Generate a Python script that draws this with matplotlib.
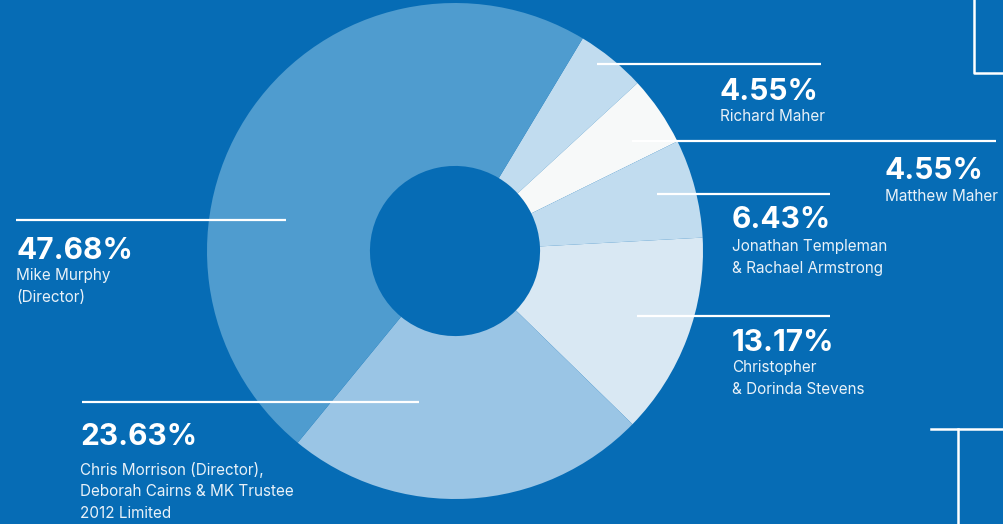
import matplotlib.pyplot as plt

# Shareholders, clockwise from the top
names = ['Richard Maher', 'Matthew Maher',
         'Jonathan Templeman\n& Rachael Armstrong',
         'Christopher\n& Dorinda Stevens',
         'Chris Morrison (Director),\nDeborah Cairns & MK Trustee\n2012 Limited',
         'Mike Murphy\n(Director)']
shares = [4.55, 4.55, 6.43, 13.17, 23.63, 47.68]
colors = ['#c1dcef', '#f7f9f9', '#c1dcef', '#d9e8f3', '#9ac5e5', '#4f9ccf']

BG = '#066cb5'
W, H = 1004, 524

fig = plt.figure(figsize=(W / 100, H / 100), dpi=100, facecolor=BG)
ax = fig.add_axes([0, 0, 1, 1])
ax.set_facecolor(BG)


def py(y):
    # pixel row (from top) -> data y
    return H - y


ax.pie(shares, colors=colors, startangle=59, counterclock=False,
       center=(455, py(251)), radius=248,
       wedgeprops=dict(width=248 * 0.657, linewidth=0))

# pie() sets its own limits, so fix them afterwards
ax.set_xlim(0, W)
ax.set_ylim(0, H)
ax.set_aspect('equal')
ax.axis('off')

# label layout: leader line (x0, x1, y), text x, pct baseline, first name baseline
layout = [
    ((597, 821, 64), 720, 100, 121),
    ((632, 996, 141), 885, 179, 201),
    ((657, 830, 194), 732, 228, 251),
    ((637, 830, 316), 732, 351, 372),
    ((82, 419, 402), 80, 445, 475),
    ((16, 286, 220), 16, 259, 280),
]
gap = 21.5

for share, name, (line, tx, pct_y, name_y) in zip(shares, names, layout):
    x0, x1, ly = line
    ax.plot([x0, x1], [py(ly), py(ly)], color='white', lw=1.6, solid_capstyle='butt')
    ax.text(tx, py(pct_y), '%.2f%%' % share, color='white', fontsize=21.5,
            fontweight='bold', family='Inter', va='baseline', ha='left')
    for i, part in enumerate(name.split('\n')):
        ax.text(tx, py(name_y + i * gap), part, color='#e8f1f8', fontsize=11,
                family='Inter', va='baseline', ha='left')

# corner decorations
ax.plot([974, 974, W], [py(0), py(73), py(73)], color='white', lw=1.8)
ax.plot([931, W], [py(429), py(429)], color='white', lw=1.8)
ax.plot([958, 958], [py(429), py(H)], color='white', lw=1.8)

fig.savefig('out.png', dpi=100, facecolor=BG)
